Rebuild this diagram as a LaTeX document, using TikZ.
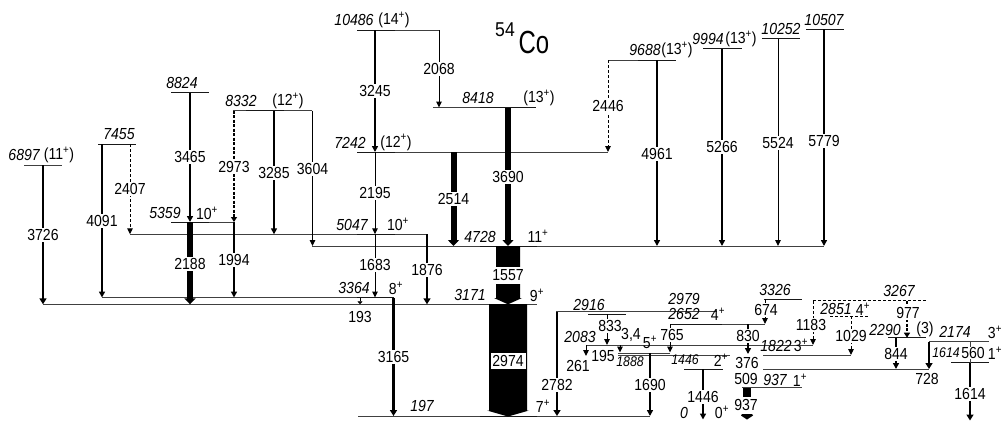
\documentclass[tikz,border=0pt]{standalone}
\usepackage{fontspec}
\setmainfont[FakeStretch=0.88]{Liberation Sans}
\usetikzlibrary{arrows.meta}
\newcommand\spp{\textsuperscript{+}}
\tikzset{
 lev/.style={line width=.8pt,black!75},
 levb/.style={line width=1pt,black!90},
 levd/.style={line width=1pt,black,dash pattern=on 3pt off 2pt},
 tA/.style={line width=1pt,-{Triangle[length=6pt,width=5.5pt]}},
 tB/.style={line width=1.6pt,-{Triangle[length=6pt,width=6pt]}},
 tC/.style={line width=2.4pt,-{Triangle[length=6pt,width=7pt]}},
 tD/.style={line width=6pt,-{Triangle[length=6pt,width=11pt]}},
 dA/.style={tA,dash pattern=on 3pt off 2pt},
 dB/.style={line width=1.5pt,-{Triangle[length=5pt,width=6pt]},dash pattern=on 3pt off 1.5pt},
 tl/.style={font=\fontsize{16}{16}\selectfont,inner sep=1pt,fill=white},
 pl/.style={font=\fontsize{16}{16}\selectfont,inner sep=0pt},
 el/.style={font=\fontsize{16}{16}\selectfont\itshape,inner sep=0pt},
 els/.style={font=\fontsize{14}{14}\selectfont\itshape,inner sep=0pt},
}
\newcommand\tr[6]{\draw[#1] (#2,#3) -- (#2,#4); \node[tl] (t#5) at (#2,#6) {#5};}
\begin{document}
\begin{tikzpicture}[x=1pt,y=-1pt]
\useasboundingbox (0,0) rectangle (1001,421);
% levels
\draw[lev] (24,165)--(62,165);
\draw[levb] (98,144)--(136,144);
\draw[levb] (171,92.5)--(209,92.5);
\draw[lev] (233,110.5)--(312,110.5);
\draw[levb] (246,110.5)--(284,110.5);
\draw[lev] (190,222)--(233,222);
\draw[levb] (171,222)--(209,222);
\draw[lev] (130,234.3)--(427,234.3);
\draw[levb] (357,234.3)--(395,234.3);
\draw[lev] (312,246)--(824,246);
\draw[levb] (480,246)--(537,246);
\draw[lev] (102,297.5)--(394,297.5);
\draw[levb] (357,297.5)--(394,297.5);
\draw[lev] (43,304.3)--(537,304.3);
\draw[lev] (358,416)--(650,416);
\draw[levb] (480,416)--(537,416);
\draw[lev] (357,30)--(439,30);
\draw[levb] (357,30)--(395,30);
\draw[lev] (433,107.5)--(536,107.5);
\draw[levb] (480,107.5)--(536,107.5);
\draw[lev] (357,152)--(608,152);
\draw[levb] (357,152)--(395,152);
\draw[lev] (608,60)--(676,60);
\draw[levb] (638,60)--(676,60);
\draw[levb] (703,48.5)--(742,48.5);
\draw[levb] (762,38.5)--(800,38.5);
\draw[levb] (806,29)--(844,29);
% right levels
\draw[lev] (556,311.7)--(717,311.7);
\draw[levb] (588,314)--(626,314);
\draw[lev] (670,324)--(765,324);
\draw[levb] (670,324)--(722,324);
\draw[levb] (764,299)--(802,299);
\draw[levd] (813,300.7)--(926,300.7);
\draw[levd] (830,316)--(869,316);
\draw[lev] (587,345)--(813,345);
\draw[lev] (618,353)--(670,353);
\draw[lev] (618,355)--(730,355);
\draw[lev] (763,355)--(851,355);
\draw[levb] (684,369)--(723,369);
\draw[lev] (763,369)--(929,369);
\draw[lev] (742,387.7)--(802,387.7);
\draw[levb] (888,337.7)--(926,337.7);
\draw[lev] (929,341.7)--(989,341.7);
\draw[levb] (951,362.7)--(989,362.7);
% big transitions
\fill (496,246)--(520,246)--(520,298)--(522,298)--(508,304.3)--(494,298)--(496,298)--cycle;
\fill (489,304)--(527,304)--(527,410.5)--(529,410.5)--(508,416.5)--(487,410.5)--(489,410.5)--cycle;
\node[tl,minimum width=27pt,minimum height=17pt,inner sep=0pt] (t1557) at (508,275.5) {1557};
\node[tl,minimum width=35pt,minimum height=16pt,inner sep=0pt] (t2974) at (508,361) {2974};
% transitions
\tr{tC}{43}{165}{304.3}{3726}{235}
\tr{tB}{102}{144}{297.5}{4091}{221}
\tr{dA}{130}{144}{234.3}{2407}{189}
\tr{tB}{190}{92.5}{222}{3465}{157}
\tr{tD}{190}{222}{304.3}{2188}{264}
\tr{dB}{234}{110.5}{222}{2973}{167}
\tr{tB}{234}{222}{297.5}{1994}{260}
\tr{tB}{274}{110.5}{234.3}{3285}{173}
\tr{tA}{312.5}{110.5}{246}{3604}{169}
\tr{tB}{375}{30}{152}{3245}{91}
\tr{tA}{439}{30}{107.5}{2068}{69}
\tr{tA}{375}{152}{234.3}{2195}{193}
\tr{tA}{375}{234.3}{297.5}{1683}{265}
\tr{tD}{453.5}{152}{246}{2514}{199}
\tr{tD}{508}{107.5}{246}{3690}{177}
\tr{tC}{427}{234.3}{304.3}{1876}{270}
\tr{tC}{393.5}{297.5}{416}{3165}{357}
\tr{dA}{608}{60}{152}{2446}{106}
\tr{tB}{657}{60}{246}{4961}{154}
\tr{tB}{722}{48.5}{246}{5266}{147}
\tr{tA}{778}{38.5}{246}{5524}{143}
\tr{tB}{824}{29}{246}{5779}{141}
\tr{tC}{557}{312}{416}{2782}{385}
\tr{tB}{650}{353}{416}{1690}{385}
\tr{tB}{703}{369}{419.5}{1446}{397}
\tr{tC}{970}{362.7}{420.5}{1614}{394}
\draw[line width=.8pt,-{Triangle[length=3pt,width=5pt]}] (360,297.5)--(360,304.3);
\node[pl] (t193) at (360,317) {193};
% small right transitions
\draw[tA] (607,314)--(607,345);
\node[tl] (t833) at (610,326) {833};
\draw[tA] (670,324)--(670,352.5);
\node[tl] (t765) at (672,335) {765};
\draw[tA] (586,345)--(586,356);
\node[pl] (t261) at (578,366) {261};
\draw[tA] (620,345)--(620,352.5);
\node[pl] (t195) at (603,356) {195};
\draw[tB] (748,324)--(748,354);
\node[tl] (t830) at (748,336) {830};
\draw[tA] (765,299)--(765,324);
\node[tl] (t674) at (766,310) {674};
\draw[dA] (813,301)--(813,345);
\node[tl] (t1183) at (811,325) {1183};
\draw[dA] (851,316)--(851,355);
\node[tl] (t1029) at (851,336) {1029};
\draw[dB] (907,301)--(907,337.7);
\node[tl] (t977) at (908,313) {977};
\draw[tB] (896,337.7)--(896,369);
\node[tl] (t844) at (896,354) {844};
\draw[tC] (929,341.7)--(929,369);
\draw[lev] (970,341.7)--(970,362.7);
\fill (743,388)--(750.5,388)--(750.5,397)--(743,397)--cycle;
\fill (742,414)--(752,414)--(753,415.5)--(747,419.5)--(741,415.5)--cycle;
\node[pl,fill=white,inner sep=1pt] (t376) at (747,363) {376};
\node[pl,fill=white,inner sep=1pt] (t509) at (746,379) {509};
\node[pl] (t937) at (746,405) {937};
\node[pl] (t728) at (927,379) {728};
\node[pl,fill=white,inner sep=.5pt] (t560) at (973,353) {560};
% level labels
\node[el,anchor=east] (e6897) at (40,155) {6897};
\node[pl] (s6897) at (59,155) {(11\spp)};
\node[el] (e7455) at (119,134) {7455};
\node[el] (e8824) at (182,83) {8824};
\node[el] (e8332) at (241,101) {8332};
\node[pl] (s8332) at (288,101) {(12\spp)};
\node[el] (e5359) at (165,213) {5359};
\node[pl] (s5359) at (207,213) {10\spp};
\node[el] (e5047) at (352,224.5) {5047};
\node[pl] (s5047) at (398,224.5) {10\spp};
\node[el] (e3364) at (354,288) {3364};
\node[pl] (s3364) at (396,288) {8\spp};
\node[el] (e4728) at (480,236.5) {4728};
\node[pl] (s4728) at (538,236.5) {11\spp};
\node[el] (e3171) at (470,295) {3171};
\node[pl] (s3171) at (537,295) {9\spp};
\node[el] (e197) at (422,406) {197};
\node[pl] (s197) at (543,406) {7\spp};
\node[el] (e10486) at (354,20) {10486};
\node[pl] (s10486) at (394,20) {(14\spp)};
\node[el] (e8418) at (478,98) {8418};
\node[pl] (s8418) at (539,98) {(13\spp)};
\node[el] (e7242) at (350,142.5) {7242};
\node[pl] (s7242) at (396,142.5) {(12\spp)};
\node[el] (e9688) at (645,50) {9688};
\node[pl] (s9688) at (677,50) {(13\spp)};
\node[el] (e9994) at (708,38.5) {9994};
\node[pl] (s9994) at (741,39) {(13\spp)};
\node[el] (e10252) at (781,29) {10252};
\node[el] (e10507) at (824,19.5) {10507};
\node[el] (e2916) at (589,305) {2916};
\node[el] (e2979) at (684,298.5) {2979};
\node[el] (e2652) at (684,314) {2652};
\node[pl] (s2652) at (718,314.5) {4\spp};
\node[el] (e2083) at (580,337) {2083};
\node[pl] (s34) at (631,335) {3,4};
\node[pl] (s5) at (650,342.5) {5\spp};
\node[els] (e1888) at (630,362) {1888};
\node[els] (e1446) at (685,360) {1446};
\node[pl] (s1446) at (721,360) {2\spp};
\node[el] (e0) at (684,412.5) {0};
\node[pl] (s0) at (722,412.5) {0\spp};
\node[el] (e937) at (775,380) {937};
\node[pl] (s937) at (800,380) {1\spp};
\node[el] (e1822) at (776,346) {1822};
\node[pl] (s1822) at (801,345) {3\spp};
\node[el] (e3326) at (775,290) {3326};
\node[el] (e3267) at (899,291) {3267};
\node[el] (e2851) at (836,309) {2851};
\node[pl] (s2851) at (863,309) {4\spp};
\node[el] (e2290) at (885,330) {2290};
\node[pl] (s2290) at (925,329) {(3)};
\node[el] (e2174) at (955,332) {2174};
\node[pl] (s2174) at (995,332) {3\spp};
\node[els] (e1614) at (946,353) {1614};
\node[pl] (s1614) at (995,353) {1\spp};
% title
\node[inner sep=0pt,font=\fontsize{20}{20}\selectfont] (n54) at (505,30) {54};
\node[inner sep=0pt,font=\fontsize{32}{32}\selectfont] (nCo) at (534,42) {\scalebox{0.85}[1]{Co}};
\end{tikzpicture}
\end{document}
